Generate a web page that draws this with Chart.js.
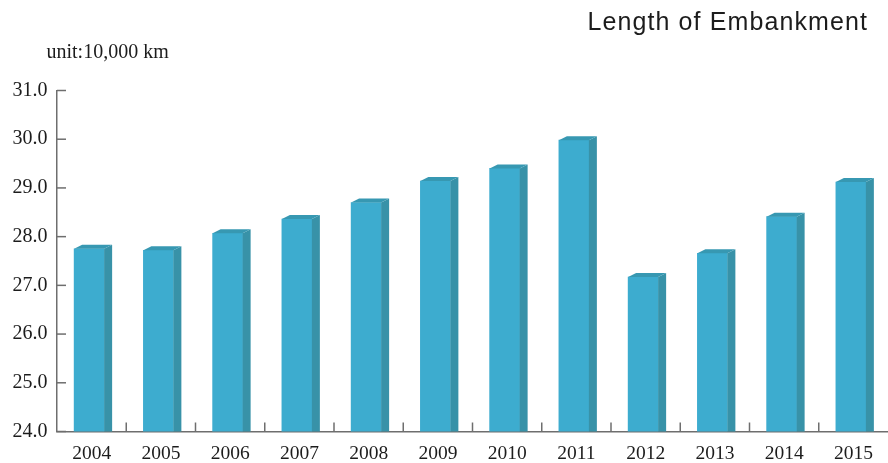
<!DOCTYPE html>
<html><head><meta charset="utf-8">
<script src="https://cdn.jsdelivr.net/npm/chart.js@4.4.1/dist/chart.umd.min.js"></script>
<style>html,body{margin:0;padding:0;background:#fff;overflow:hidden}canvas{display:block}</style>
</head><body>
<canvas id="c" width="888" height="463" style="width:888px;height:463px"></canvas>
<script>
const years = ['2004','2005','2006','2007','2008','2009','2010','2011','2012','2013','2014','2015'];
const embankmentLength = [27.75, 27.72, 28.07, 28.36, 28.70, 29.14, 29.40, 29.98, 27.17, 27.66, 28.41, 29.12];
const yTickValues = [24, 25, 26, 27, 28, 29, 30, 31];
const titleText = 'Length of Embankment';
const unitText = 'unit:10,000 km';

const FRONT = 'rgb(61,172,207)';
const SIDE = 'rgb(56,146,168)';
const TOP = 'rgb(55,152,178)';
const AXIS = '#6e6e6e';
const DX = 8, DY = 4, SHIFT = -2.5;

const threeD = {
  id: 'threeD',
  beforeDatasetsDraw(chart) {
    chart.ctx.save();
    chart.ctx.translate(SHIFT, 0);
  },
  afterDatasetsDraw(chart) {
    const ctx = chart.ctx;
    const meta = chart.getDatasetMeta(0);
    const bottom = chart.chartArea.bottom;
    meta.data.forEach(bar => {
      const x0 = bar.x - bar.width / 2, x1 = bar.x + bar.width / 2;
      const yt = bar.y, yb = Math.min(bar.base, bottom);
      ctx.fillStyle = SIDE;
      ctx.beginPath();
      ctx.moveTo(x1, yt); ctx.lineTo(x1 + DX, yt - DY); ctx.lineTo(x1 + DX, yb); ctx.lineTo(x1, yb);
      ctx.closePath(); ctx.fill();
      ctx.fillStyle = TOP;
      ctx.beginPath();
      ctx.moveTo(x0, yt); ctx.lineTo(x0 + DX, yt - DY); ctx.lineTo(x1 + DX, yt - DY); ctx.lineTo(x1, yt);
      ctx.closePath(); ctx.fill();
    });
    ctx.restore();
  },
  afterDraw(chart) {
    const ctx = chart.ctx;
    const area = chart.chartArea;
    const ys = chart.scales.y, xs = chart.scales.x;
    ctx.save();
    ctx.strokeStyle = AXIS;
    ctx.lineWidth = 1.5;
    yTickValues.forEach(v => {
      const y = ys.getPixelForValue(v);
      ctx.beginPath(); ctx.moveTo(area.left, y); ctx.lineTo(area.left + 9, y); ctx.stroke();
    });
    for (let i = 1; i < years.length; i++) {
      const x = (xs.getPixelForValue(i - 1) + xs.getPixelForValue(i)) / 2;
      ctx.beginPath(); ctx.moveTo(x, area.bottom); ctx.lineTo(x, area.bottom - 9); ctx.stroke();
    }
    ctx.fillStyle = '#1c1c1c';
    ctx.font = '20px "Liberation Serif"';
    ctx.textAlign = 'left';
    ctx.textBaseline = 'middle';
    ctx.fillText(unitText, 46.5, 53);
    ctx.font = '25px "Liberation Sans"';
    try { ctx.letterSpacing = '1.1px'; } catch (e) {}
    ctx.textAlign = 'right';
    ctx.textBaseline = 'alphabetic';
    ctx.fillText(titleText, 868, 30);
    ctx.restore();
  }
};

new Chart(document.getElementById('c'), {
  type: 'bar',
  data: {
    labels: years,
    datasets: [{
      data: embankmentLength,
      backgroundColor: FRONT,
      borderWidth: 0,
      barThickness: 30
    }]
  },
  options: {
    responsive: false,
    animation: false,
    devicePixelRatio: 1,
    layout: { padding: { top: 90.5, right: 0, bottom: 0, left: 0 } },
    plugins: { legend: { display: false }, tooltip: { enabled: false }, title: { display: false } },
    scales: {
      x: {
        grid: { display: false, drawTicks: false },
        border: { display: true, color: AXIS, width: 1.5 },
        ticks: { color: '#1c1c1c', font: { family: 'Liberation Serif', size: 19.5 }, padding: 11, maxRotation: 0 },
        afterFit(s) { s.height = 31.5; }
      },
      y: {
        min: 24, max: 31,
        afterBuildTicks(s) { s.ticks = yTickValues.map(v => ({ value: v })); },
        grid: { display: false, drawTicks: false },
        border: { display: true, color: AXIS, width: 1.5 },
        ticks: { color: '#1c1c1c', font: { family: 'Liberation Serif', size: 20 }, padding: 9.5,
          callback: v => Number(v).toFixed(1) },
        afterFit(s) { s.width = 57; }
      }
    }
  },
  plugins: [threeD]
});
</script>
</body></html>
